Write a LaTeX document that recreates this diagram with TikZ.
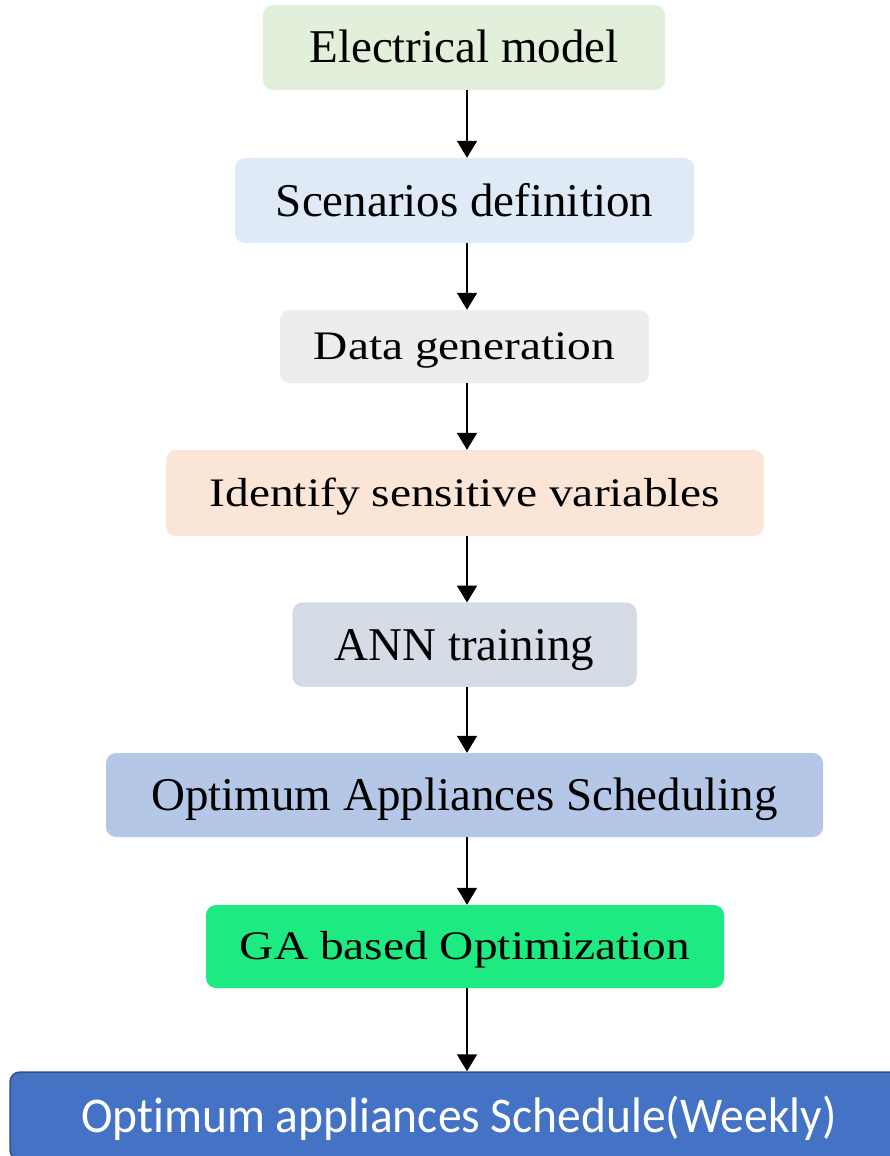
\documentclass[tikz,border=0pt]{standalone}
\usepackage{fontspec}
\setmainfont{Liberation Serif}
\newfontfamily\wideserif[FakeStretch=1.17]{Liberation Serif}
\newfontfamily\calib[FakeStretch=0.95, Ligatures=NoCommon]{Carlito}
\usetikzlibrary{arrows.meta}

\definecolor{modelc}{HTML}{E2EFDA}
\definecolor{scenc}{HTML}{DEEBF7}
\definecolor{datac}{HTML}{EDEDED}
\definecolor{sensc}{HTML}{FBE5D6}
\definecolor{annc}{HTML}{D6DCE5}
\definecolor{annd}{HTML}{C9D4EC}
\definecolor{schedc}{HTML}{B4C7E7}
\definecolor{gac}{HTML}{1EEA82}
\definecolor{outc}{HTML}{4472C4}
\definecolor{outd}{HTML}{2F528F}

\begin{document}
\begin{tikzpicture}
[x=1pt, y=-1pt,
 box/.style={rounded corners=10pt, inner sep=0pt},
 big/.style={box, font=\fontsize{47}{50}\selectfont, text height=31pt, text depth=0pt},
 wide/.style={box, font=\wideserif\fontsize{40.5}{44}\selectfont, text height=26.5pt, text depth=0pt},
 flow/.style={-{Triangle[width=20pt,length=17pt]}, line width=1.8pt}]
\useasboundingbox (0,0) rectangle (890,1156);

\node [big, fill=modelc, minimum width=402pt, minimum height=85pt] (model) at (464,47.5) {Electrical model};
\node [big, fill=scenc, minimum width=459pt, minimum height=85pt] (scen) at (464.5,200.5) {Scenarios definition};
\node [wide, fill=datac, minimum width=369pt, minimum height=73pt] (data) at (464.5,346.5) {Data generation};
\node [wide, fill=sensc, minimum width=598pt, minimum height=86pt] (sens) at (465,493) {Identify sensitive variables};
\node [big, fill=annc, draw=annd, line width=1pt, minimum width=343pt, minimum height=83pt] (ann) at (464.5,644.5) {ANN training};
\node [big, fill=schedc, minimum width=717pt, minimum height=84pt] (sched) at (464.5,795) {Optimum Appliances Scheduling};
\node [wide, fill=gac, minimum width=518pt, minimum height=83pt] (ga) at (465,946.5) {GA based Optimization};
\node [box, fill=outc, draw=outd, line width=1.5pt, text=white, font=\calib\fontsize{50}{54}\selectfont,
       text height=32pt, text depth=0pt, minimum width=898pt, minimum height=88pt] (out) at (459,1116) {Optimum appliances Schedule(Weekly)};

% arrows all run down one vertical line
\coordinate (axis) at (467,0);
\foreach \i/\j in {model/scen,scen/data,data/sens,sens/ann,ann/sched,sched/ga,ga/out}
	\draw [flow] (\i.south -| axis) -- (\j.north -| axis);
\end{tikzpicture}
\end{document}
